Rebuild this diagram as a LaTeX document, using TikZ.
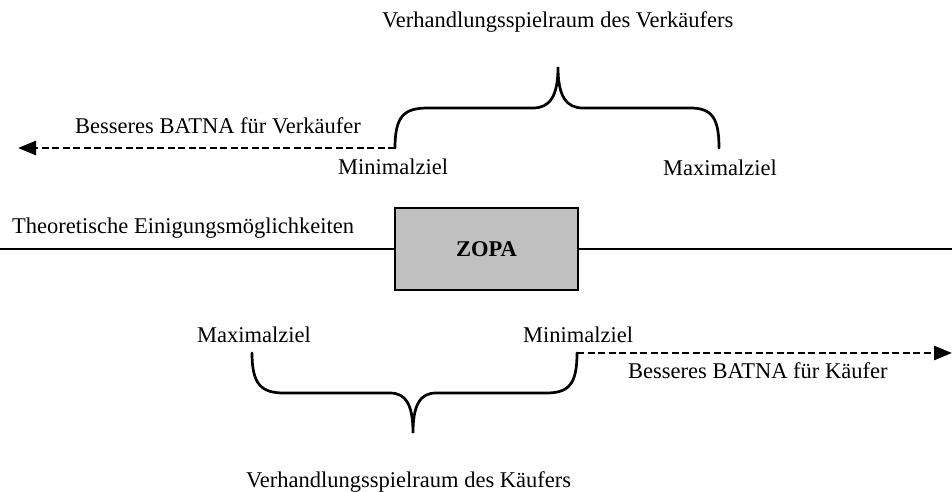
\documentclass[tikz,border=0pt]{standalone}
\usepackage{fontspec}
\setmainfont{Liberation Serif}
\usetikzlibrary{arrows.meta}
\tikzset{
  lbl/.style={anchor=base west, inner sep=0pt, font=\fontsize{22.5}{27}\selectfont},
  brace/.style={line width=2.7pt, line cap=round},
  batna/.style={line width=2.7pt, dash pattern=on 7pt off 3.5pt, -{Triangle[length=18pt,width=14pt]}},
  mainline/.style={line width=2.6pt},
  zopabox/.style={draw, line width=2.4pt, fill={rgb,255:red,192;green,192;blue,192}, minimum width=183pt, minimum height=82pt, inner sep=0pt, font=\fontsize{22.5}{27}\selectfont\bfseries}
}
\begin{document}
\begin{tikzpicture}[x=1pt,y=-1pt]
\useasboundingbox (0,0) rectangle (952,491);
% texts
\node[lbl] (titleV) at (382,27) {Verhandlungsspielraum des Verkäufers};
\node[lbl] (batnaV) at (75,133) {Besseres BATNA für Verkäufer};
\node[lbl] (minV) at (338,174) {Minimalziel};
\node[lbl] (maxV) at (663,175) {Maximalziel};
\node[lbl] (theo) at (12,233) {Theoretische Einigungsmöglichkeiten};
\node[lbl] (maxK) at (197,342) {Maximalziel};
\node[lbl] (minK) at (523,342) {Minimalziel};
\node[lbl] (batnaK) at (628,378) {Besseres BATNA für Käufer};
\node[lbl] (titleK) at (246,487) {Verhandlungsspielraum des Käufers};
% main line and ZOPA
\coordinate (lineL) at (0,249);
\coordinate (lineR) at (952,249);
\node[zopabox] (zopa) at (486.5,249) {ZOPA};
\draw[mainline] (lineL) -- (zopa.west);
\draw[mainline] (zopa.east) -- (lineR);
% top brace (seller)
\coordinate (vL) at (395,148);
\coordinate (vR) at (719,148);
\coordinate (vT) at (558,67);
\draw[brace] (vL) .. controls (395,116) and (404,108) .. (428,108) -- (533,108)
  .. controls (550,108) and (558,96) .. (vT)
  .. controls (558,96) and (566,108) .. (583,108) -- (690,108)
  .. controls (712,108) and (719,118) .. (vR);
\coordinate (arrV) at (18,148);
\draw[batna] (vL) -- (arrV);
% bottom brace (buyer)
\coordinate (kL) at (252,353);
\coordinate (kR) at (577,353);
\coordinate (kT) at (413,433);
\draw[brace] (kL) .. controls (252,384) and (261,393) .. (284,393) -- (390,393)
  .. controls (406,393) and (413,405) .. (kT)
  .. controls (413,405) and (420,393) .. (436,393) -- (546,393)
  .. controls (569,393) and (577,384) .. (kR);
\coordinate (arrK) at (952,353);
\draw[batna] (kR) -- (arrK);
\end{tikzpicture}
\end{document}
